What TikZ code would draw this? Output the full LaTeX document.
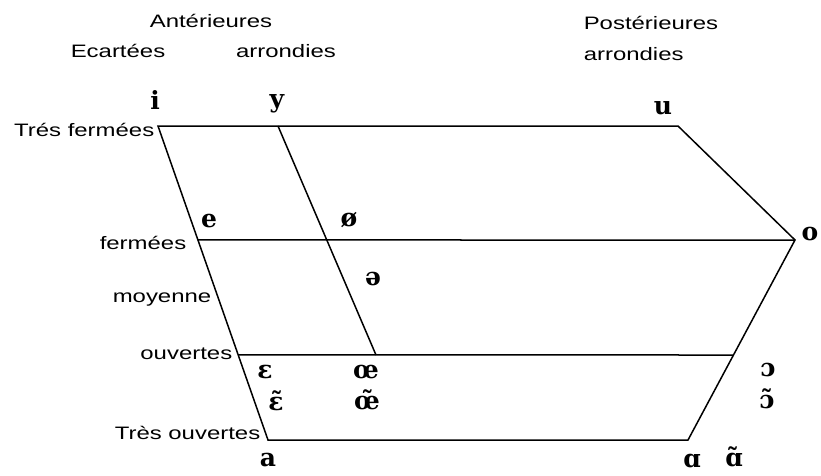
\documentclass[tikz,border=0pt]{standalone}
\usepackage{fontspec}
\usetikzlibrary{calc}
\newfontfamily\labfont[FakeStretch=1.33]{Liberation Sans}
\newfontfamily\vowfont{DejaVu Serif}

\begin{document}
\begin{tikzpicture}[x=1pt,y=-1pt,line width=1.5pt,
    lab/.style={font=\labfont\fontsize{18}{18}\selectfont, inner sep=0pt},
    vowel/.style={font=\vowfont\bfseries\fontsize{25}{25}\selectfont, inner sep=0pt}]
    \useasboundingbox (0,0) rectangle (821,475);
    % ---- coins du trapeze ----
    \coordinate (TL) at (158,126);
    \coordinate (TY) at (278,126);
    \coordinate (TR) at (678,126);
    \coordinate (O)  at (795,240);
    \coordinate (BR) at (688,440);
    \coordinate (BL) at (268,440);
    \coordinate (OY) at (376,355);
    \coordinate (FL) at ($(TL)!0.363!(BL)$);
    \coordinate (OL) at ($(TL)!0.729!(BL)$);
    \coordinate (OR) at ($(O)!0.575!(BR)$);
    % ---- lignes ----
    \draw (TL) -- (TR) -- (O) -- (BR) -- (BL) -- cycle;
    \draw (FL) -- (O);
    \draw (OL) -- (OR);
    \draw (TY) -- (OY);
    % ---- titres ----
    \node[lab] (ant) at (211,21) {Antérieures};
    \node[lab] (ecart) at (118,51) {Ecartées};
    \node[lab] (arr1) at (286,51) {arrondies};
    \node[lab,anchor=west] (post) at (583,23) {Postérieures};
    \node[lab,anchor=west] (arr2) at (583,54) {arrondies};
    % ---- degres d'aperture ----
    \node[lab,anchor=east] (tf) at (155,130) {Trés fermées};
    \node[lab,anchor=east] (ferm) at (187,243) {fermées};
    \node[lab,anchor=east] (moy) at (212,300) {moyenne};
    \node[lab,anchor=east] (ouv) at (233,354) {ouvertes};
    \node[lab,anchor=east] (to) at (261,433) {Très ouvertes};
    % ---- voyelles ----
    \node[vowel] (v-i) at (155,100) {i};
    \node[vowel] (v-y) at (277,104) {y};
    \node[vowel] (v-u) at (663,108) {u};
    \node[vowel] (v-e) at (209,221) {e};
    \node[vowel] (v-oe) at (349,220) {ø};
    \node[vowel] (v-schwa) at (373,279) {ə};
    \node[vowel] (v-o) at (810,234) {o};
    \node[vowel] (v-eps) at (265,372) {ɛ};
    \node[vowel] (v-epsn) at (276,401) {ɛ̃};
    \node[vowel] (v-oel) at (366,372) {œ};
    \node[vowel] (v-oeln) at (367,400) {œ̃};
    \node[vowel] (v-open) at (768,370) {ɔ};
    \node[vowel] (v-openn) at (767,399) {ɔ̃};
    \node[vowel] (v-a) at (268,460) {a};
    \node[vowel] (v-alpha) at (692,461) {ɑ};
    \node[vowel] (v-alphan) at (734,457) {ɑ̃};
\end{tikzpicture}
\end{document}
